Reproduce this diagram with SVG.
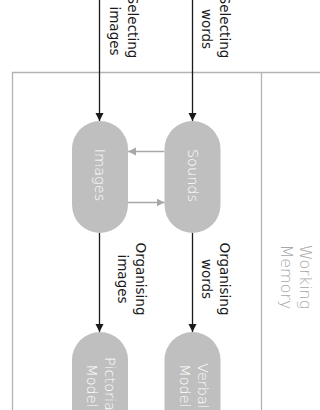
<svg xmlns="http://www.w3.org/2000/svg" width="320" height="410" viewBox="0 0 320 410">
<style>
.box{fill:none;stroke:#b3b3b3;stroke-width:1.3}
.node{fill:#bfbfbf}
.nlabel{font-family:"DejaVu Sans","Liberation Sans",sans-serif;font-size:14.5px;font-weight:200;fill:#ffffff;text-anchor:middle}
.label{font-family:"DejaVu Sans","Liberation Sans",sans-serif;font-size:13.5px;fill:#1a1a1a;text-anchor:middle}
.wm{font-family:"DejaVu Sans","Liberation Sans",sans-serif;font-size:16px;font-weight:200;fill:#a8a8a8;text-anchor:middle}
.blk{stroke:#1a1a1a;stroke-width:1.3;fill:none}
.gry{stroke:#a8a8a8;stroke-width:1.3;fill:none}
</style>
<defs>
<marker id="ab" markerUnits="userSpaceOnUse" markerWidth="9" markerHeight="9" refX="8" refY="4" orient="auto" viewBox="0 0 9 9"><path d="M0,0 L8,4 L0,8 z" fill="#1a1a1a"/></marker>
<marker id="ag" markerUnits="userSpaceOnUse" markerWidth="9" markerHeight="9" refX="8" refY="4" orient="auto" viewBox="0 0 9 9"><path d="M0,0 L8,4 L0,8 z" fill="#a8a8a8"/></marker>
</defs>
<rect width="320" height="410" fill="#ffffff"/>
<g id="working-memory">
<path class="box" d="M12.5,410 V72.5 H322"/>
<line class="box" x1="261.5" y1="72.5" x2="261.5" y2="410"/>
<text class="wm" x="300" y="277" transform="rotate(90 300 277)">Working</text>
<text class="wm" x="281" y="277" transform="rotate(90 281 277)">Memory</text>
</g>
<g id="connectors">
<line class="blk" x1="99.5" y1="0" x2="99.5" y2="121" marker-end="url(#ab)"/>
<line class="blk" x1="192.5" y1="0" x2="192.5" y2="121" marker-end="url(#ab)"/>
<line class="blk" x1="99.5" y1="233" x2="99.5" y2="332" marker-end="url(#ab)"/>
<line class="blk" x1="192.5" y1="233" x2="192.5" y2="332" marker-end="url(#ab)"/>
<line class="gry" x1="164.5" y1="151.5" x2="128" y2="151.5" marker-end="url(#ag)"/>
<line class="gry" x1="128" y1="202.5" x2="164.5" y2="202.5" marker-end="url(#ag)"/>
<text class="label" x="128" y="27" transform="rotate(90 128 27)">Selecting</text>
<text class="label" x="110" y="31" transform="rotate(90 110 31)">images</text>
<text class="label" x="220" y="27" transform="rotate(90 220 27)">Selecting</text>
<text class="label" x="202" y="29" transform="rotate(90 202 29)">words</text>
<text class="label" x="136" y="279" transform="rotate(90 136 279)">Organising</text>
<text class="label" x="118" y="279" transform="rotate(90 118 279)">images</text>
<text class="label" x="220" y="279" transform="rotate(90 220 279)">Organising</text>
<text class="label" x="202" y="279" transform="rotate(90 202 279)">words</text>
</g>
<g id="images">
<rect class="node" x="72" y="121" width="56" height="112" rx="28"/>
<text class="nlabel" x="95" y="175" transform="rotate(90 95 175)">Images</text>
</g>
<g id="sounds">
<rect class="node" x="164.5" y="121" width="56" height="112" rx="28"/>
<text class="nlabel" x="187.5" y="175.5" transform="rotate(90 187.5 175.5)">Sounds</text>
</g>
<g id="pictorial-model">
<rect class="node" x="72" y="332" width="56" height="112" rx="28"/>
<text class="nlabel" x="105" y="386" transform="rotate(90 105 386)">Pictorial</text>
<text class="nlabel" x="87" y="386" transform="rotate(90 87 386)">Model</text>
</g>
<g id="verbal-model">
<rect class="node" x="164.5" y="332" width="56" height="112" rx="28"/>
<text class="nlabel" x="197.5" y="386" transform="rotate(90 197.5 386)">Verbal</text>
<text class="nlabel" x="179.5" y="386" transform="rotate(90 179.5 386)">Model</text>
</g>
</svg>
